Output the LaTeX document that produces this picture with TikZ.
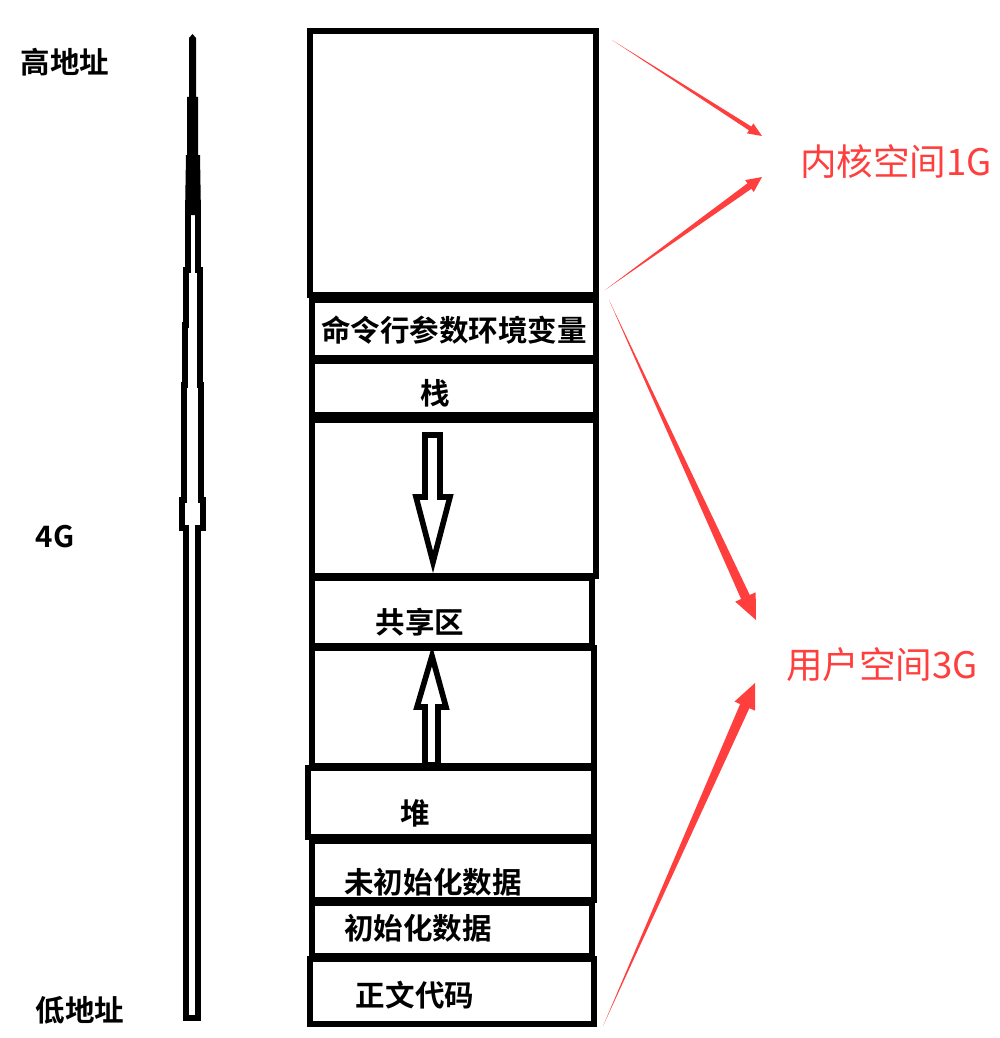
\documentclass[tikz,border=0pt]{standalone}
\usepackage{fontspec}
\setmainfont{Noto Sans CJK SC}[BoldFont={Noto Sans CJK SC Bold}]
\usepackage{tikz}
\usetikzlibrary{calc}
\definecolor{kred}{RGB}{255,62,62}
% tapered red arrow: from, to, shaft half width, head half width, head length
\newcommand{\taperarrow}[5]{%
  \coordinate (hb) at ($(#2)!#5!(#1)$);
  \fill[kred] (#1) -- ($(hb)!#3!90:(#2)$) -- ($(hb)!#4!90:(#2)$) -- (#2)
    -- ($(hb)!#4!-90:(#2)$) -- ($(hb)!#3!-90:(#2)$) -- cycle;}
\tikzset{
  memblk/.style={draw=black,line width=3.9pt},
  blklabel/.style={font=\fontsize{21}{24}\selectfont\bfseries,inner sep=0pt},
  addrlabel/.style={font=\fontsize{21}{24}\selectfont\bfseries,inner sep=0pt},
  spacelabel/.style={font=\fontsize{26}{30}\selectfont,text=kred,inner sep=0pt},
  holarrow/.style={draw=black,line width=4pt,fill=white,line join=miter},
  axisbar/.style={draw=black,line width=4.2pt,fill=white}
}

\begin{document}
\begin{tikzpicture}[x=0.025cm,y=-0.025cm]
  \useasboundingbox (0,0) rectangle (999,1038);

  % address axis
  \path[axisbar] (188,212) -- (188,270) -- (186,270) -- (186,325) -- (185,325)
    -- (185,385) -- (184,385) -- (184,500) -- (182,500) -- (182,528)
    -- (186,528) -- (186,1018) -- (198,1018) -- (198,528) -- (203,528)
    -- (203,500) -- (201,500) -- (201,385) -- (200,385) -- (200,270)
    -- (198,270) -- (198,212) -- cycle;
  \fill[black] (189,38) -- (189,97) -- (187,97) -- (187,155) -- (186,155) -- (185,215)
    -- (201,215) -- (200,155) -- (198,155) -- (198,97) -- (196,97) -- (196,38)
    -- (192.5,34) -- cycle;

  \node[addrlabel] (high) at (65,62) {高地址};
  \node[addrlabel] (mid) at (55,537) {4G};
  \node[addrlabel] (low) at (80,1010) {低地址};

  % memory blocks
  \draw[memblk] (310,31) rectangle (596,295);
  \draw[memblk] (312,300) rectangle (596,358);
  \draw[memblk] (312,361) rectangle (596,415);
  \draw[memblk] (312,420) rectangle (596,576);
  \draw[memblk] (312,578) rectangle (592,646);
  \draw[memblk] (312,648) rectangle (594,766);
  \draw[memblk] (308,768) rectangle (594,837);
  \draw[memblk] (312,841) rectangle (594,900);
  \draw[memblk] (312,903) rectangle (592,956);
  \draw[memblk] (310,959) rectangle (594,1024);

  \node[blklabel] (env) at (454,330) {命令行参数环境变量};
  \node[blklabel] (stack) at (435,393) {栈};
  \node[blklabel] (shared) at (420,622) {共享区};
  \node[blklabel] (heap) at (415,813) {堆};
  \node[blklabel] (bss) at (433,882) {未初始化数据};
  \node[blklabel] (data) at (418,928) {初始化数据};
  \node[blklabel] (text) at (415,995) {正文代码};

  % growth arrows
  \path[holarrow] (425,435) -- (440,435) -- (440,497) -- (450,497) -- (433,562)
    -- (416,497) -- (425,497) -- cycle;
  \path[holarrow] (425,765) -- (425,707) -- (417,707) -- (432,656) -- (446,707)
    -- (438,707) -- (438,765) -- cycle;

  % space labels
  \node[spacelabel] (kern) at (896,162) {内核空间1G};
  \node[spacelabel] (user) at (882,665) {用户空间3G};

  \coordinate (ktop) at (612,40);
  \coordinate (kbot) at (605,290);
  \coordinate (utop) at (609,300);
  \coordinate (ubot) at (603,1026);
  \coordinate (kin1) at (762,136);
  \coordinate (kin2) at (762,177);
  \coordinate (uin1) at (756,620);
  \coordinate (uin2) at (755,683);

  \taperarrow{ktop}{kin1}{1.6pt}{4.2pt}{10pt}
  \taperarrow{kbot}{kin2}{2.4pt}{5.2pt}{11pt}
  \taperarrow{utop}{uin1}{3.4pt}{8pt}{18pt}
  \taperarrow{ubot}{uin2}{3.6pt}{8pt}{18pt}
\end{tikzpicture}
\end{document}
